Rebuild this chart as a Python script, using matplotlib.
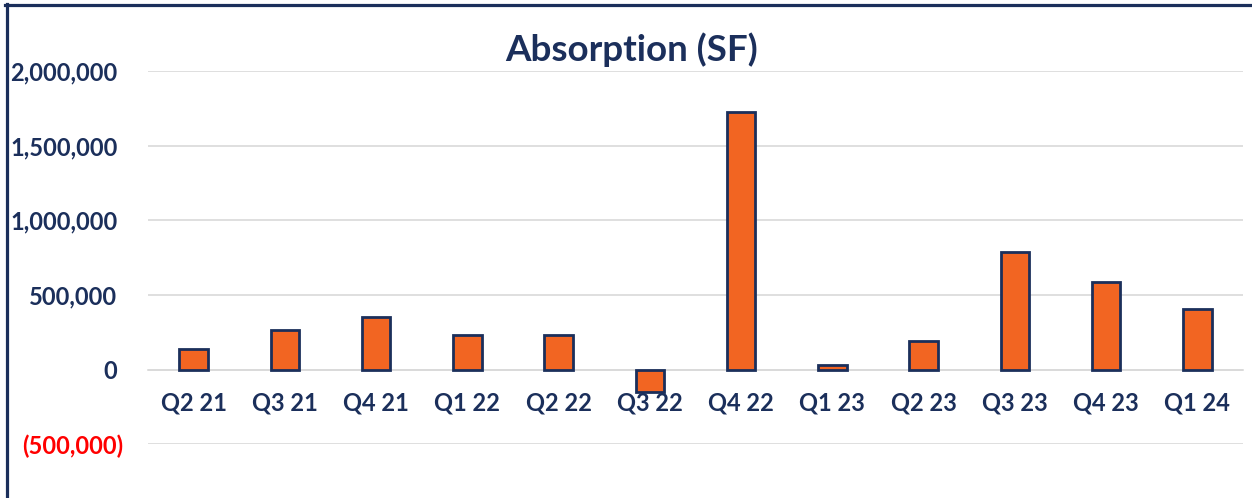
import matplotlib
matplotlib.use("Agg")
import matplotlib.pyplot as plt
from matplotlib.lines import Line2D
from matplotlib.ticker import FixedLocator
from matplotlib.transforms import ScaledTranslation

categories = ["Q2 21", "Q3 21", "Q4 21", "Q1 22", "Q2 22", "Q3 22",
              "Q4 22", "Q1 23", "Q2 23", "Q3 23", "Q4 23", "Q1 24"]
absorption = [139000, 268000, 355000, 233000, 234000, -147000,
              1727000, 34000, 193000, 791000, 587000, 408000]
y_ticks = [-500000, 0, 500000, 1000000, 1500000, 2000000]
y_tick_labels = ["(500,000)", "0", "500,000", "1,000,000", "1,500,000", "2,000,000"]
title = "Absorption (SF)"

NAVY = "#1b2f5b"
ORANGE = "#f26522"
GRID = "#d9d9d9"

plt.rcParams['font.family'] = ['Lato', 'DejaVu Sans']

fig = plt.figure(figsize=(12.52, 4.98), dpi=100)
W, H = 1252, 498
ax = fig.add_axes([148 / W, 1 - 444.4 / H, (1243 - 148) / W, (444.4 - 71) / H])

x = list(range(len(categories)))
ax.bar(x, absorption, width=0.31, color=ORANGE, edgecolor=NAVY,
       linewidth=2, zorder=3)

ax.set_xlim(-0.5, len(categories) - 0.5)
ax.set_ylim(-500000, 2000000)
ax.yaxis.set_major_locator(FixedLocator(y_ticks))
ax.set_yticklabels(y_tick_labels)
ax.grid(axis='y', color=GRID, linewidth=1.2, zorder=0)
ax.set_axisbelow(True)

for s in ["top", "right", "left"]:
    ax.spines[s].set_visible(False)
ax.spines["bottom"].set_position(("data", 0))
ax.spines["bottom"].set_color(GRID)
ax.spines["bottom"].set_linewidth(1.2)

ax.set_xticks(x)
ax.set_xticklabels(categories)
ax.tick_params(axis='x', length=0, pad=16, labelsize=17, labelcolor=NAVY)
ax.tick_params(axis='y', length=0, pad=22, labelsize=17, labelcolor=NAVY)
for lbl in ax.get_xticklabels() + ax.get_yticklabels():
    lbl.set_fontweight('bold')
for tick, v in zip(ax.yaxis.get_major_ticks(), y_ticks):
    if v < 0:
        tick.label1.set_color("#ff0000")
        tick.label1.set_transform(tick.label1.get_transform() +
                                  ScaledTranslation(6 / 100, 0, fig.dpi_scale_trans))

fig.text(631.5 / W, 1 - 61 / H, title, ha='center', va='baseline',
         fontsize=26.5, fontweight='bold', color=NAVY)

# frame lines (left and top)
fig.add_artist(Line2D([6.5 / W, 6.5 / W], [0, 1 - 4 / H], color=NAVY,
                      linewidth=2.3, transform=fig.transFigure))
fig.add_artist(Line2D([5 / W, 1], [1 - 5.2 / H, 1 - 5.2 / H], color=NAVY,
                      linewidth=2.3, transform=fig.transFigure))

fig.savefig("out.png", dpi=100, facecolor="white")
